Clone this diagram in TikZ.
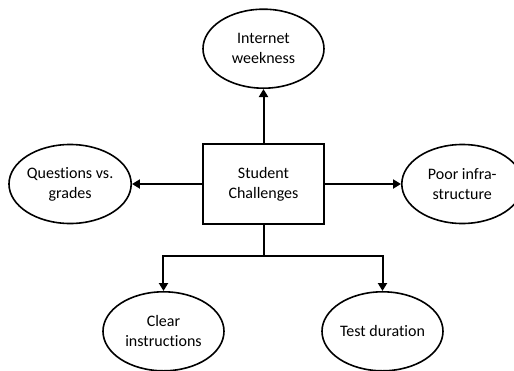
\documentclass[tikz,border=0pt]{standalone}
\usepackage{fontspec}
\setmainfont{Carlito}[Ligatures=NoCommon]
\usetikzlibrary{arrows.meta, positioning, shapes.geometric}

\begin{document}
\begin{tikzpicture}[
  challenge/.style={ellipse, draw, line width=1.6pt, minimum width=121pt, minimum height=79pt, inner sep=0pt, align=center, font=\fontsize{16}{20}\selectfont},
  hub/.style={rectangle, draw, line width=2pt, minimum width=121pt, minimum height=80pt, align=center, font=\fontsize{16}{20}\selectfont},
  edge/.style={-{Triangle[length=8pt, width=9pt]}, line width=2pt}
]
\useasboundingbox (-263.5pt,-186pt) rectangle (250.5pt,184pt);
\node[hub] (box) {Student\\Challenges};
\node[challenge, above=54pt of box] (internet) {Internet\\weekness};
\node[challenge, left=70pt of box] (questions) {Questions vs.\\grades};
\node[challenge, right=76pt of box] (infra) {Poor infra-\\structure};
\node[challenge, below=66pt of box, xshift=-100pt] (clear) {Clear\\instructions};
\node[challenge, below=66pt of box, xshift=119pt] (test) {Test duration};

\draw[edge] (box) -- (internet);
\draw[edge] (box) -- (questions);
\draw[edge] (box) -- (infra);
\draw[line width=2pt] (box.south) -- ++(0,-31pt) coordinate (split);
\draw[edge] (split) -| (clear);
\draw[edge] (split) -| (test);
\end{tikzpicture}
\end{document}
